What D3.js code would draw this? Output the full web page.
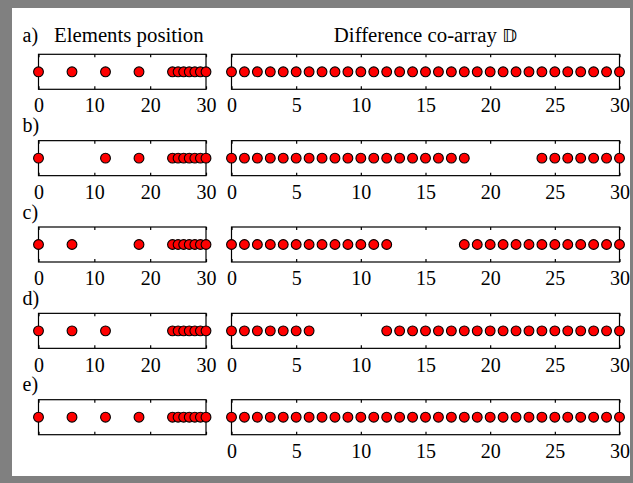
<!DOCTYPE html>
<html>
<head>
<meta charset="utf-8">
<script src="https://cdn.jsdelivr.net/npm/d3@7"></script>
<style>
  html, body { margin: 0; padding: 0; background: #808080; }
  svg { display: block; }
  text { font-family: "Liberation Serif", "Times New Roman", serif; fill: #000; }
</style>
</head>
<body>
<svg id="chart" width="633" height="483"></svg>
<script>
// Row labels for the five array configurations
const rowLabels = ["a)", "b)", "c)", "d)", "e)"];

// Physical sensor positions for each configuration
const elementPositions = [
  [0, 6, 12, 18, 24, 25, 26, 27, 28, 29, 30],
  [0, 12, 18, 24, 25, 26, 27, 28, 29, 30],
  [0, 6, 18, 24, 25, 26, 27, 28, 29, 30],
  [0, 6, 12, 24, 25, 26, 27, 28, 29, 30],
  [0, 6, 12, 18, 24, 25, 26, 27, 28, 29, 30]
];

// Non-negative lags present in the difference co-array of each configuration
const coarrayLags = [
  [0, 1, 2, 3, 4, 5, 6, 7, 8, 9, 10, 11, 12, 13, 14, 15, 16, 17, 18, 19, 20, 21, 22, 23, 24, 25, 26, 27, 28, 29, 30],
  [0, 1, 2, 3, 4, 5, 6, 7, 8, 9, 10, 11, 12, 13, 14, 15, 16, 17, 18, 24, 25, 26, 27, 28, 29, 30],
  [0, 1, 2, 3, 4, 5, 6, 7, 8, 9, 10, 11, 12, 18, 19, 20, 21, 22, 23, 24, 25, 26, 27, 28, 29, 30],
  [0, 1, 2, 3, 4, 5, 6, 12, 13, 14, 15, 16, 17, 18, 19, 20, 21, 22, 23, 24, 25, 26, 27, 28, 29, 30],
  [0, 1, 2, 3, 4, 5, 6, 7, 8, 9, 10, 11, 12, 13, 14, 15, 16, 17, 18, 19, 20, 21, 22, 23, 24, 25, 26, 27, 28, 29, 30]
];

// Axis ticks
const positionTicks = [0, 10, 20, 30];
const lagTicks = [0, 5, 10, 15, 20, 25, 30];
// Rows whose left panel carries tick labels
const positionLabelRows = [true, true, true, true, false];

const leftTitle = "Elements position";
const rightTitle = "Difference co-array ";
const coarraySymbol = "\u{1D53B}";

const svg = d3.select("#chart");
const W = 633, H = 483;

// Grey outer frame with a white page inside
svg.append("rect").attr("width", W).attr("height", H).attr("fill", "#808080");
svg.append("rect").attr("x", 12).attr("y", 8).attr("width", 618).attr("height", 468).attr("fill", "#fff");

const xLeft = d3.scaleLinear().domain([0, 30]).range([38.5, 206]);
const xRight = d3.scaleLinear().domain([0, 30]).range([231.5, 619.5]);

const firstTop = 54.3, rowStep = 86.35, boxH = 35;
const titleSize = 20.8, labelSize = 20, tickSize = 20;

// Column titles
svg.append("text").attr("x", 22.5).attr("y", 41.5)
  .style("font-size", labelSize + "px").text(rowLabels[0]);
svg.append("text").attr("x", 54).attr("y", 41.5)
  .style("font-size", titleSize + "px").text(leftTitle);
svg.append("text").attr("x", (xRight.range()[0] + xRight.range()[1]) / 2).attr("y", 41.5)
  .attr("text-anchor", "middle")
  .style("font-size", titleSize + "px")
  .text(rightTitle)
  .append("tspan")
  .style("font-family", "'DejaVu Sans', 'DejaVu Serif', serif")
  .style("font-size", "18.5px")
  .text(coarraySymbol);

function panel(g, x, ticks, values, showLabels) {
  const [x0, x1] = x.range();
  // inward ticks on the bottom edge, with labels below
  const bottom = d3.axisBottom(x).tickValues(ticks).tickSizeInner(-3).tickSizeOuter(0).tickPadding(9);
  if (!showLabels) bottom.tickFormat(() => "");
  const gb = g.append("g").attr("transform", `translate(0,${boxH})`).call(bottom);
  // inward ticks on the top edge
  const top = d3.axisTop(x).tickValues(ticks).tickSizeInner(-3).tickSizeOuter(0).tickFormat(() => "");
  const gt = g.append("g").call(top);
  [gb, gt].forEach(a => {
    a.select(".domain").remove();
    a.selectAll(".tick line").attr("stroke", "#000").attr("stroke-width", 1.2);
    a.selectAll(".tick text")
      .style("font-family", "'Liberation Serif', 'Times New Roman', serif")
      .style("font-size", tickSize + "px")
      .attr("fill", "#000");
  });
  // frame
  g.append("rect").attr("x", x0).attr("y", 0).attr("width", x1 - x0).attr("height", boxH)
    .attr("fill", "none").attr("stroke", "#000").attr("stroke-width", 1.2);
  // markers
  g.selectAll("circle").data(values).join("circle")
    .attr("cx", d => x(d)).attr("cy", boxH / 2).attr("r", 4.9)
    .attr("fill", "#ff0000").attr("stroke", "#000").attr("stroke-width", 1.1);
}

rowLabels.forEach((lab, i) => {
  const top = firstTop + i * rowStep;
  if (i > 0) {
    svg.append("text").attr("x", 22.5).attr("y", top - 8.5)
      .style("font-size", labelSize + "px").text(lab);
  }
  const g = svg.append("g").attr("transform", `translate(0,${top})`);
  panel(g.append("g"), xLeft, positionTicks, elementPositions[i], positionLabelRows[i]);
  panel(g.append("g"), xRight, lagTicks, coarrayLags[i], true);
});
</script>
</body>
</html>
